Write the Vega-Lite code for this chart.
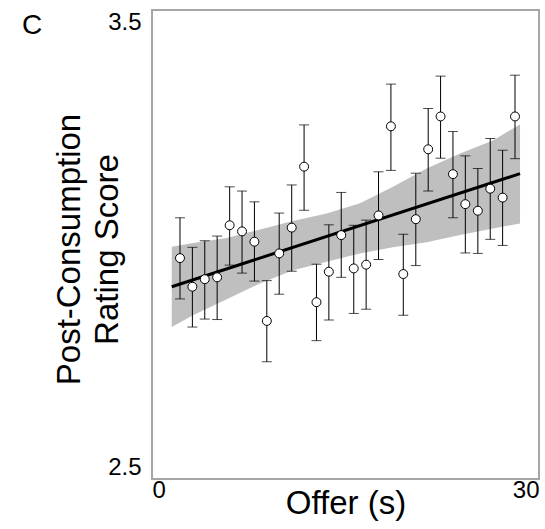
{
  "$schema": "https://vega.github.io/schema/vega-lite/v6.json",
  "width": 387,
  "height": 469,
  "autosize": {"type": "none"},
  "padding": {"left": 152, "top": 10, "right": 6, "bottom": 50},
  "background": "white",
  "title": {"text": "C", "anchor": "start", "frame": "group", "baseline": "top", "fontSize": 28, "fontWeight": "normal", "font": "Liberation Sans", "color": "black", "dx": -130, "dy": 34},
  "datasets": {
    "pts": [
      {"offer": 2.17, "mean": 2.971, "lo": 2.884, "hi": 3.057},
      {"offer": 3.13, "mean": 2.910, "lo": 2.824, "hi": 2.994},
      {"offer": 4.09, "mean": 2.926, "lo": 2.841, "hi": 3.008},
      {"offer": 5.05, "mean": 2.930, "lo": 2.840, "hi": 3.018},
      {"offer": 6.02, "mean": 3.041, "lo": 2.956, "hi": 3.123},
      {"offer": 6.98, "mean": 3.028, "lo": 2.939, "hi": 3.114},
      {"offer": 7.94, "mean": 3.006, "lo": 2.922, "hi": 3.091},
      {"offer": 8.90, "mean": 2.837, "lo": 2.750, "hi": 2.923},
      {"offer": 9.86, "mean": 2.981, "lo": 2.894, "hi": 3.067},
      {"offer": 10.83, "mean": 3.036, "lo": 2.943, "hi": 3.127},
      {"offer": 11.79, "mean": 3.166, "lo": 3.073, "hi": 3.255},
      {"offer": 12.75, "mean": 2.877, "lo": 2.795, "hi": 2.958},
      {"offer": 13.71, "mean": 2.942, "lo": 2.839, "hi": 3.042},
      {"offer": 14.67, "mean": 3.020, "lo": 2.930, "hi": 3.111},
      {"offer": 15.64, "mean": 2.949, "lo": 2.853, "hi": 3.041},
      {"offer": 16.60, "mean": 2.957, "lo": 2.862, "hi": 3.052},
      {"offer": 17.56, "mean": 3.062, "lo": 2.968, "hi": 3.155},
      {"offer": 18.52, "mean": 3.252, "lo": 3.158, "hi": 3.342},
      {"offer": 19.48, "mean": 2.937, "lo": 2.849, "hi": 3.022},
      {"offer": 20.45, "mean": 3.054, "lo": 2.955, "hi": 3.152},
      {"offer": 21.41, "mean": 3.203, "lo": 3.114, "hi": 3.290},
      {"offer": 22.37, "mean": 3.273, "lo": 3.184, "hi": 3.359},
      {"offer": 23.33, "mean": 3.150, "lo": 3.057, "hi": 3.241},
      {"offer": 24.29, "mean": 3.086, "lo": 2.982, "hi": 3.189},
      {"offer": 25.26, "mean": 3.072, "lo": 2.981, "hi": 3.162},
      {"offer": 26.22, "mean": 3.119, "lo": 3.011, "hi": 3.226},
      {"offer": 27.18, "mean": 3.100, "lo": 2.998, "hi": 3.201},
      {"offer": 28.14, "mean": 3.273, "lo": 3.183, "hi": 3.361}
    ],
    "band": [
      {"offer": 1.53, "lo": 2.824, "hi": 2.995},
      {"offer": 3.18, "lo": 2.849, "hi": 3.003},
      {"offer": 5.79, "lo": 2.883, "hi": 3.014},
      {"offer": 8.37, "lo": 2.917, "hi": 3.032},
      {"offer": 10.93, "lo": 2.945, "hi": 3.050},
      {"offer": 13.54, "lo": 2.963, "hi": 3.066},
      {"offer": 16.12, "lo": 2.981, "hi": 3.088},
      {"offer": 18.68, "lo": 2.994, "hi": 3.123},
      {"offer": 21.29, "lo": 3.005, "hi": 3.162},
      {"offer": 23.88, "lo": 3.020, "hi": 3.194},
      {"offer": 26.43, "lo": 3.034, "hi": 3.222},
      {"offer": 28.53, "lo": 3.045, "hi": 3.256}
    ],
    "fit": [
      {"offer": 1.53, "score": 2.910},
      {"offer": 28.53, "score": 3.151}
    ]
  },
  "encoding": {
    "x": {
      "field": "offer", "type": "quantitative",
      "scale": {"domain": [0, 30], "nice": false, "zero": false},
      "axis": {
        "title": "Offer (s)", "values": [0, 30], "labelFlush": true, "ticks": false, "domain": false, "grid": false,
        "labelFontSize": 24, "labelPadding": -1, "labelColor": "black", "labelFont": "Liberation Sans",
        "titleFontSize": 33, "titleFontWeight": "normal", "titleFont": "Liberation Sans", "titleColor": "black",
        "titleBaseline": "alphabetic", "titleY": 34
      }
    }
  },
  "layer": [
    {
      "data": {"name": "band"},
      "mark": {"type": "area", "color": "#bfbfbf", "opacity": 1},
      "encoding": {
        "y": {
          "field": "lo", "type": "quantitative",
          "scale": {"domain": [2.5, 3.5], "nice": false, "zero": false},
          "axis": {
            "title": ["Post-Consumption", "Rating Score"], "values": [2.5, 3.5], "format": ".1f", "labelFlush": true, "ticks": false, "domain": false, "grid": false,
            "labelFontSize": 24, "labelPadding": 11, "labelColor": "black", "labelFont": "Liberation Sans",
            "titleFontSize": 33, "titleFontWeight": "normal", "titleFont": "Liberation Sans", "titleColor": "black",
            "titleBaseline": "bottom", "titleAlign": "center", "titleAngle": -90, "titleX": -66, "titleY": 239, "titleLineHeight": 38
          }
        },
        "y2": {"field": "hi"}
      }
    },
    {
      "data": {"name": "fit"},
      "mark": {"type": "line", "color": "black", "strokeWidth": 3},
      "encoding": {"y": {"field": "score", "type": "quantitative"}}
    },
    {
      "data": {"name": "pts"},
      "mark": {"type": "rule", "color": "black", "strokeWidth": 1},
      "encoding": {"y": {"field": "lo", "type": "quantitative"}, "y2": {"field": "hi"}}
    },
    {
      "data": {"name": "pts"},
      "mark": {"type": "tick", "orient": "horizontal", "color": "black", "size": 10, "thickness": 1},
      "encoding": {"y": {"field": "lo", "type": "quantitative"}}
    },
    {
      "data": {"name": "pts"},
      "mark": {"type": "tick", "orient": "horizontal", "color": "black", "size": 10, "thickness": 1},
      "encoding": {"y": {"field": "hi", "type": "quantitative"}}
    },
    {
      "data": {"name": "pts"},
      "mark": {"type": "point", "shape": "circle", "filled": false, "fill": "white", "stroke": "black", "strokeWidth": 1, "size": 80, "opacity": 1},
      "encoding": {"y": {"field": "mean", "type": "quantitative"}}
    }
  ],
  "config": {
    "view": {"stroke": "#a6a6a6", "strokeWidth": 2},
    "font": "Liberation Sans"
  }
}
